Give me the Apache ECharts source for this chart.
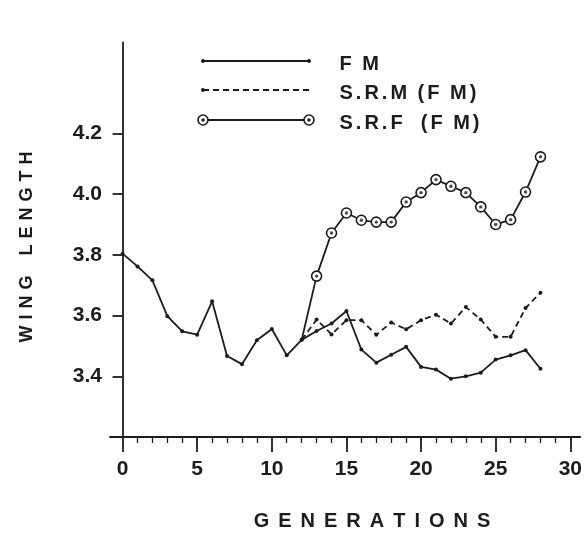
<!DOCTYPE html>
<html><head><meta charset="utf-8">
<script src="https://cdn.jsdelivr.net/npm/echarts@6/dist/echarts.min.js"></script>
<style>html,body{margin:0;padding:0;background:#fff}#c{width:585px;height:534px}</style>
</head><body><div id="c"></div><script>
// ---- data ----
const generations = [0,1,2,3,4,5,6,7,8,9,10,11,12,13,14,15,16,17,18,19,20,21,22,23,24,25,26,27,28];
const fmValues = [3.804,3.762,3.716,3.598,3.548,3.537,3.647,3.467,3.440,3.519,3.556,3.469,3.520,3.549,3.574,3.615,3.488,3.445,3.471,3.497,3.431,3.422,3.392,3.400,3.412,3.455,3.469,3.486,3.425];
const selGenerations = [12,13,14,15,16,17,18,19,20,21,22,23,24,25,26,27,28];
const srmValues = [3.520,3.587,3.538,3.585,3.585,3.537,3.577,3.555,3.585,3.603,3.574,3.628,3.587,3.530,3.530,3.625,3.675];
const srfValues = [3.520,3.730,3.872,3.938,3.914,3.908,3.908,3.974,4.005,4.048,4.026,4.005,3.958,3.900,3.916,4.007,4.123];
const xMajorTicks = [0,5,10,15,20,25,30];
const xMinorTicks = [1,2,3,4,6,7,8,9,11,12,13,14,16,17,18,19,21,22,23,24,26,27,28,29];
const yTicks = [3.4,3.6,3.8,4.0,4.2];
const seriesNames = ['F M','S.R.M (F M)','S.R.F  (F M)'];
const xTitle = 'GENERATIONS';
const yTitle = 'WING  LENGTH';

const INK = '#1c1c1c';
const FONT = '"Liberation Sans", Arial, sans-serif';
const LW = 1.8;
const zip = (xs, ys) => xs.map((x, i) => [x, ys[i]]);
function spaced(str) {
  return str.split('').map(ch => ch === ' ' ? '{g| }' : '{c|' + ch + '}').join('');
}

const chart = echarts.init(document.getElementById('c'), null, {renderer: 'canvas'});

const legendY = [61, 90, 120];
const lx1 = 203, lx2 = 309, ltx = 338;
const graphics = [];
graphics.push({type:'line', shape:{x1:lx1,y1:legendY[0],x2:lx2,y2:legendY[0]}, style:{stroke:INK,lineWidth:LW}});
graphics.push({type:'circle', shape:{cx:lx1,cy:legendY[0],r:2}, style:{fill:INK}});
graphics.push({type:'circle', shape:{cx:lx2,cy:legendY[0],r:2}, style:{fill:INK}});
graphics.push({type:'line', shape:{x1:lx1,y1:legendY[1],x2:lx2,y2:legendY[1]}, style:{stroke:INK,lineWidth:LW,lineDash:[6,4]}});
graphics.push({type:'circle', shape:{cx:lx1,cy:legendY[1],r:2}, style:{fill:INK}});
graphics.push({type:'line', shape:{x1:lx1,y1:legendY[2],x2:lx2,y2:legendY[2]}, style:{stroke:INK,lineWidth:LW}});
[lx1, lx2].forEach(x => {
  graphics.push({type:'circle', shape:{cx:x,cy:legendY[2],r:5}, style:{fill:'#fff',stroke:INK,lineWidth:1.6}});
  graphics.push({type:'circle', shape:{cx:x,cy:legendY[2],r:1.7}, style:{fill:INK}});
});
seriesNames.forEach((n, i) => {
  graphics.push({type:'text', x: ltx, y: legendY[i] + 3, style:{
    text: spaced(n), fontFamily: FONT, fontWeight:'bold', fontSize: 20, fill: INK,
    verticalAlign:'middle', align:'left',
    rich:{c:{fontFamily:FONT,fontWeight:'bold',fontSize:20,fill:INK,padding:[0,1.5,0,1.5]}, g:{fontFamily:FONT,fontWeight:'bold',fontSize:20,padding:[0,1,0,1]}}
  }});
});
graphics.push({type:'text', x: 372, y: 521, style:{
  text: spaced(xTitle), fontFamily: FONT, fontWeight:'bold', fontSize: 20, fill: INK,
  align:'center', verticalAlign:'middle',
  rich:{c:{fontFamily:FONT,fontWeight:'bold',fontSize:20,fill:INK,padding:[0,4.5,0,4.5]}, g:{fontSize:20}}
}});
graphics.push({type:'text', x: 27, y: 247, rotation: Math.PI/2, style:{
  text: spaced(yTitle), fontFamily: FONT, fontWeight:'bold', fontSize: 18, fill: INK,
  align:'center', verticalAlign:'middle',
  rich:{c:{fontFamily:FONT,fontWeight:'bold',fontSize:18,fill:INK,padding:[0,3,0,3]}, g:{fontSize:18,padding:[0,1,0,1]}}
}});

const axisLbl = {fontFamily: FONT, fontWeight:'bold', fontSize: 21, color: INK};

// SRF: the first point is the shared FM point and carries no ring marker
const srfData = zip(selGenerations, srfValues).map((p, i) => i === 0 ? {value: p, symbol: 'none'} : p);
const srfCentres = zip(selGenerations, srfValues).slice(1);

chart.setOption({
  animation: false,
  backgroundColor: '#fff',
  grid: {left: 110, right: 0, top: 42.4, bottom: 97, containLabel: false},
  xAxis: [{
    type:'value', min:-0.842, max:30.66, position:'bottom',
    axisLine:{onZero:false, lineStyle:{color:INK, width:LW}},
    axisTick:{customValues: xMajorTicks, length: 15, lineStyle:{color:INK, width:LW}},
    axisLabel: Object.assign({customValues: xMajorTicks, margin: 22}, axisLbl),
    splitLine:{show:false}
  },{
    type:'value', min:-0.842, max:30.66, position:'bottom', offset:0,
    axisLine:{show:false, onZero:false},
    axisTick:{customValues: xMinorTicks, length: 6, lineStyle:{color:INK, width:1.3}},
    axisLabel:{show:false},
    splitLine:{show:false}
  }],
  yAxis: {
    type:'value', min:3.2, max:4.5,
    axisLine:{show:true, onZero:true, lineStyle:{color:INK, width:LW}},
    axisTick:{show:true, customValues: yTicks, length: 10, lineStyle:{color:INK, width:LW}},
    axisLabel: Object.assign({customValues: yTicks, margin: 8, formatter: v => Number(v).toFixed(1)}, axisLbl),
    splitLine:{show:false}
  },
  graphic: graphics,
  series: [
    {name: seriesNames[0], type:'line', data: zip(generations, fmValues), symbol:'circle', symbolSize:4,
     itemStyle:{color:INK}, lineStyle:{color:INK, width:LW}, z:3},
    {name: seriesNames[1], type:'line', data: zip(selGenerations, srmValues), symbol:'circle', symbolSize:4,
     itemStyle:{color:INK}, lineStyle:{color:INK, width:LW, type:[6,4]}, z:2},
    {name: seriesNames[2], type:'line', data: srfData, symbol:'circle', symbolSize:10,
     itemStyle:{color:'#fff', borderColor:INK, borderWidth:1.6}, lineStyle:{color:INK, width:LW}, z:4},
    {name: seriesNames[2] + ' centre', type:'scatter', data: srfCentres, symbol:'circle', symbolSize:3.4,
     itemStyle:{color:INK}, z:5}
  ]
});
</script></body></html>
